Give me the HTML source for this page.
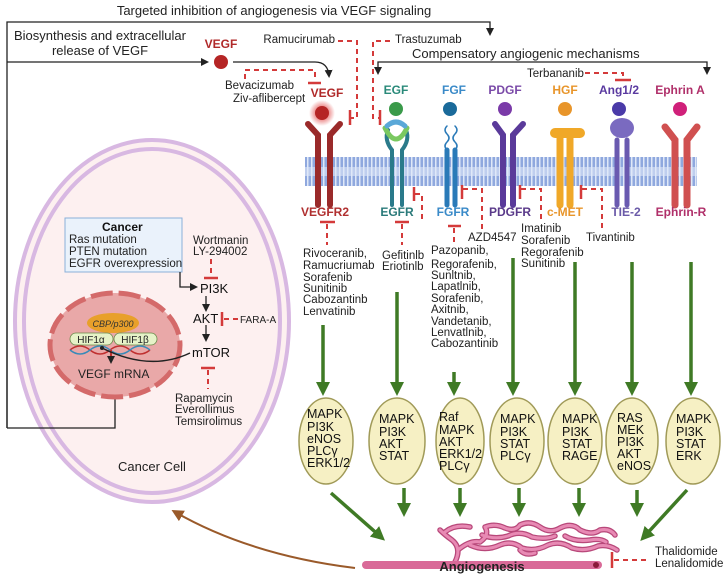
<!DOCTYPE html>
<html><head><meta charset="utf-8"><style>
body{margin:0;background:#fff}
svg{display:block;font-family:"Liberation Sans",sans-serif}
.t{font-size:11.5px;fill:#222}
.o{font-size:12.5px;fill:#111}
.b{font-weight:bold;font-size:12px}
.d{stroke:#d43a3a;stroke-width:2;stroke-dasharray:5,4;fill:none}
.bar{stroke:#d43a3a;stroke-width:2.5;fill:none}
.g{stroke:#3f7a25;stroke-width:3.5;fill:none}
</style></head><body>
<svg width="726" height="580" viewBox="0 0 726 580" xmlns="http://www.w3.org/2000/svg">
<defs>
<marker id="ak" markerWidth="8" markerHeight="8" refX="6" refY="4" orient="auto" markerUnits="userSpaceOnUse"><path d="M0,0 L8,4 L0,8z" fill="#222"/></marker>
<marker id="ag" markerWidth="14" markerHeight="14" refX="10" refY="7" orient="auto" markerUnits="userSpaceOnUse"><path d="M0,0 L14,7 L0,14z" fill="#3f7a25"/></marker>
<marker id="ab" markerWidth="12" markerHeight="12" refX="8" refY="6" orient="auto" markerUnits="userSpaceOnUse"><path d="M0,0 L12,6 L0,12z" fill="#9a5a2a"/></marker>
<radialGradient id="glow"><stop offset="0.4" stop-color="#e04040" stop-opacity="0.7"/><stop offset="1" stop-color="#e04040" stop-opacity="0"/></radialGradient>
<pattern id="mem" width="4" height="30" patternUnits="userSpaceOnUse"><rect width="4" height="30" fill="#dfe8f8"/><rect x="0.5" width="2.5" height="30" fill="#8fa8de"/></pattern>
</defs>

<!-- title & frame -->
<text x="274" y="15" text-anchor="middle" style="font-size:13px" fill="#222">Targeted inhibition of angiogenesis via VEGF signaling</text>
<path d="M7,428 V22 H490 V34" stroke="#222" stroke-width="1.3" fill="none" marker-end="url(#ak)"/>
<text x="100" y="40" text-anchor="middle" style="font-size:13px" fill="#222">Biosynthesis and extracellular</text>
<text x="100" y="55" text-anchor="middle" style="font-size:13px" fill="#222">release of VEGF</text>
<path d="M7,62 H207" stroke="#222" stroke-width="1.3" fill="none" marker-end="url(#ak)"/>
<text x="221" y="48" text-anchor="middle" class="b" fill="#b02a2a">VEGF</text>
<circle cx="221" cy="62" r="7" fill="#b52525"/>
<path d="M233,62 H315 Q328,62 329,76" stroke="#222" stroke-width="1.3" fill="none" marker-end="url(#ak)"/>
<path d="M245,79 V70 H315 V78" class="d"/><path d="M308,83 H321" class="bar"/>
<text x="225" y="89" class="t">Bevacizumab</text>
<text x="233" y="102" class="t">Ziv-aflibercept</text>
<text x="327" y="97" text-anchor="middle" class="b" fill="#b02a2a">VEGF</text>
<circle cx="322" cy="113" r="13" fill="url(#glow)"/>
<circle cx="322" cy="113" r="7" fill="#b52525"/>
<text x="335" y="43" text-anchor="end" class="t">Ramucirumab</text>
<path d="M338,41 H357 V118 H350" class="d"/><path d="M350,110 V125" class="bar"/>
<text x="395" y="43" class="t">Trastuzumab</text>
<path d="M390,41 H373 V118 H380" class="d"/><path d="M380,110 V125" class="bar"/>
<text x="412" y="58" style="font-size:13px" fill="#222">Compensatory angiogenic mechanisms</text>
<path d="M378,72 V62 H707 V72" stroke="#222" stroke-width="1.3" fill="none"/>
<path d="M378,64 V73" stroke="#222" marker-end="url(#ak)"/><path d="M707,64 V73" stroke="#222" marker-end="url(#ak)"/>
<text x="527" y="77" class="t">Terbananib</text>
<path d="M585,73 H623 V79" class="d"/><path d="M615,80 H631" class="bar"/>

<!-- ligands -->
<g class="b" text-anchor="middle">
<text x="396" y="94" fill="#2a8a7a">EGF</text>
<text x="454" y="94" fill="#3a8ac8">FGF</text>
<text x="505" y="94" fill="#7a4aa8">PDGF</text>
<text x="565" y="94" fill="#e8952a">HGF</text>
<text x="619" y="94" fill="#5a3aa0">Ang1/2</text>
<text x="680" y="94" fill="#b0306a">Ephrin A</text>
</g>
<circle cx="396" cy="109" r="7" fill="#3a9a4a"/>
<circle cx="450" cy="109" r="7" fill="#1a6a9a"/>
<circle cx="505" cy="109" r="7" fill="#7a3aa8"/>
<circle cx="565" cy="109" r="7" fill="#e8952a"/>
<circle cx="619" cy="109" r="7" fill="#4a3aa8"/>
<circle cx="680" cy="109" r="7" fill="#d0207a"/>

<!-- membrane -->
<rect x="305" y="157" width="392" height="29" fill="url(#mem)"/>
<rect x="305" y="167" width="392" height="9" fill="#dfe8f8" opacity="0.6"/>

<!-- receptors -->
<g stroke-linecap="round" fill="none">
<path d="M318,205 V135 L308,124 M330,205 V135 L340,124" stroke="#9a2a2a" stroke-width="6"/>
<path d="M392,205 V150 Q384,140 388,130 M402,205 V150 Q410,140 406,130" stroke="#2a7a8a" stroke-width="4"/>
<path d="M385,128 Q396,150 407,128" stroke="#7ac860" stroke-width="5"/>
<path d="M387,126 Q396,118 405,126" stroke="#5aa8d8" stroke-width="5"/>
<path d="M447,205 V150 M455,205 V150" stroke="#2a7ab8" stroke-width="5"/>
<path d="M447,150 q-4,-4 0,-8 q4,-4 0,-8 q-4,-4 0,-8 M455,150 q4,-4 0,-8 q-4,-4 0,-8 q4,-4 0,-8" stroke="#2a7ab8" stroke-width="1.5"/>
<path d="M503,205 V135 L495,124 M513,205 V135 L523,124" stroke="#5a3a9a" stroke-width="6"/>
<path d="M560,205 V135 M570,205 V135" stroke="#f0a828" stroke-width="7"/>
<path d="M555,133 H580" stroke="#f0a828" stroke-width="10"/>
<path d="M617,205 V140 M627,205 V140" stroke="#6a5ab0" stroke-width="5"/>
<ellipse cx="622" cy="128" rx="12" ry="10" fill="#7a6ac0" stroke="none"/>
<path d="M675,205 V140 L665,127 M687,205 V140 L697,127" stroke="#d05050" stroke-width="7"/>
</g>

<g class="b" text-anchor="middle">
<text x="325" y="216" fill="#b03030">VEGFR2</text>
<text x="397" y="216" fill="#2a7a7a">EGFR</text>
<text x="453" y="216" fill="#3a8ac8">FGFR</text>
<text x="510" y="216" fill="#5a3a8a">PDGFR</text>
<text x="565" y="216" fill="#e8952a">c-MET</text>
<text x="626" y="216" fill="#6a5aa8">TIE-2</text>
<text x="681" y="216" fill="#b0306a">Ephrin-R</text>
</g>

<!-- inhibitor dashes -->
<path d="M320,222 H335" class="bar"/><path d="M327,224 V245" class="d"/>
<path d="M395,222 H409" class="bar"/><path d="M402,224 V245" class="d"/>
<path d="M414,187 V201" class="bar"/><path d="M415,194 H422 V220" class="d"/>
<path d="M448,226 H461" class="bar"/><path d="M454,228 V243" class="d"/>
<path d="M462,185 V199" class="bar"/><path d="M463,189 H482 V232" class="d"/>
<text x="468" y="241" class="t">AZD4547</text>
<path d="M520,185 V199" class="bar"/><path d="M521,189 H541 V222" class="d"/>
<path d="M581,185 V199" class="bar"/><path d="M582,189 H602 V228" class="d"/>
<text x="586" y="241" class="t">Tivantinib</text>

<!-- drug lists -->
<g class="t">
<text x="303" y="257">Rivoceranib,</text><text x="303" y="269">Ramucriumab</text><text x="303" y="281">Sorafenib</text><text x="303" y="292">Sunitinib</text><text x="303" y="303">Cabozantinb</text><text x="303" y="315">Lenvatinib</text>
<text x="382" y="259">Gefitinlb</text><text x="382" y="270">Eriotinlb</text>
<text x="431" y="254">Pazopanib,</text><text x="431" y="268">Regorafenib,</text><text x="431" y="279">Sunltnib,</text><text x="431" y="290">Lapatlnib,</text><text x="431" y="302">Sorafenib,</text><text x="431" y="313">Axitnib,</text><text x="431" y="325">Vandetanib,</text><text x="431" y="336">Lenvatlnib,</text><text x="431" y="347">Cabozantinib</text>
<text x="521" y="232">Imatinib</text><text x="521" y="244">Sorafenib</text><text x="521" y="256">Regorafenib</text><text x="521" y="267">Sunitinib</text>
</g>

<!-- green arrows down -->
<path d="M323,325 V392" class="g" marker-end="url(#ag)"/>
<path d="M397,292 V392" class="g" marker-end="url(#ag)"/>
<path d="M454,372 V392" class="g" marker-end="url(#ag)"/>
<path d="M513,258 V392" class="g" marker-end="url(#ag)"/>
<path d="M575,262 V392" class="g" marker-end="url(#ag)"/>
<path d="M632,262 V392" class="g" marker-end="url(#ag)"/>
<path d="M691,262 V392" class="g" marker-end="url(#ag)"/>

<!-- ovals -->
<g fill="#f6f0c4" stroke="#a09a58" stroke-width="1.5">
<ellipse cx="326" cy="441" rx="27" ry="43"/>
<ellipse cx="397" cy="441" rx="28" ry="43"/>
<ellipse cx="460" cy="441" rx="24" ry="43"/>
<ellipse cx="517" cy="441" rx="27" ry="43"/>
<ellipse cx="575" cy="441" rx="27" ry="43"/>
<ellipse cx="632" cy="441" rx="26" ry="43"/>
<ellipse cx="693" cy="441" rx="27" ry="43"/>
</g>
<g class="o">
<text x="307" y="418">MAPK</text><text x="307" y="431">PI3K</text><text x="307" y="443">eNOS</text><text x="307" y="455">PLCγ</text><text x="307" y="467">ERK1/2</text>
<text x="379" y="423">MAPK</text><text x="379" y="436">PI3K</text><text x="379" y="448">AKT</text><text x="379" y="460">STAT</text>
<text x="439" y="421">Raf</text><text x="439" y="434">MAPK</text><text x="439" y="446">AKT</text><text x="439" y="458">ERK1/2</text><text x="439" y="470">PLCγ</text>
<text x="500" y="423">MAPK</text><text x="500" y="436">PI3K</text><text x="500" y="448">STAT</text><text x="500" y="460">PLCγ</text>
<text x="562" y="423">MAPK</text><text x="562" y="436">PI3K</text><text x="562" y="448">STAT</text><text x="562" y="460">RAGE</text>
<text x="617" y="422">RAS</text><text x="617" y="434">MEK</text><text x="617" y="446">PI3K</text><text x="617" y="458">AKT</text><text x="617" y="470">eNOS</text>
<text x="676" y="423">MAPK</text><text x="676" y="436">PI3K</text><text x="676" y="448">STAT</text><text x="676" y="460">ERK</text>
</g>

<!-- lower arrows -->
<path d="M331,493 L382,538" class="g" marker-end="url(#ag)"/>
<path d="M404,488 V513" class="g" marker-end="url(#ag)"/>
<path d="M460,488 V513" class="g" marker-end="url(#ag)"/>
<path d="M519,488 V513" class="g" marker-end="url(#ag)"/>
<path d="M579,488 V513" class="g" marker-end="url(#ag)"/>
<path d="M637,490 V513" class="g" marker-end="url(#ag)"/>
<path d="M687,490 L643,538" class="g" marker-end="url(#ag)"/>

<!-- vessel -->
<g fill="none" stroke-linecap="round" stroke-linejoin="round">
<g stroke="#b8487a" stroke-width="5.5">
<path id="v1" d="M455,562 Q462,548 452,540 Q445,535 440,530 M458,550 Q470,540 480,542 Q490,535 485,527 Q495,523 505,528 Q515,532 520,525 Q530,520 540,527 Q550,534 560,528 Q572,522 580,530 Q592,536 600,530 Q610,528 615,535"/>
<path d="M470,545 Q485,552 500,545 Q512,540 522,548 Q535,552 548,545 Q560,540 572,548 Q585,552 598,546 Q608,544 617,550"/>
<path d="M482,535 Q495,540 508,536 Q520,530 532,537 Q545,540 555,536 M565,536 Q575,542 590,540 Q600,538 606,542 M445,532 Q455,524 470,527 M520,550 Q525,556 535,553"/>
</g>
<g stroke="#e88ab4" stroke-width="3">
<path d="M455,562 Q462,548 452,540 Q445,535 440,530 M458,550 Q470,540 480,542 Q490,535 485,527 Q495,523 505,528 Q515,532 520,525 Q530,520 540,527 Q550,534 560,528 Q572,522 580,530 Q592,536 600,530 Q610,528 615,535"/>
<path d="M470,545 Q485,552 500,545 Q512,540 522,548 Q535,552 548,545 Q560,540 572,548 Q585,552 598,546 Q608,544 617,550"/>
<path d="M482,535 Q495,540 508,536 Q520,530 532,537 Q545,540 555,536 M565,536 Q575,542 590,540 Q600,538 606,542 M445,532 Q455,524 470,527 M520,550 Q525,556 535,553"/>
</g>
</g>
<rect x="362" y="561" width="240" height="8" rx="4" fill="#d96a98"/>
<circle cx="596" cy="565" r="3" fill="#8a1a3a"/>
<text x="482" y="571" text-anchor="middle" style="font-size:13px;font-weight:bold" fill="#222">Angiogenesis</text>
<path d="M612,552 V568" class="bar"/><path d="M614,560 H650" class="d"/>
<text x="655" y="555" class="t">Thalidomide</text><text x="655" y="567" class="t">Lenalidomide</text>

<!-- brown arrow -->
<path d="M355,568 Q250,555 175,512" stroke="#9a5a2a" stroke-width="2" fill="none" marker-end="url(#ab)"/>

<!-- cell -->
<ellipse cx="152" cy="321" rx="137" ry="181" fill="#fdf0f0" stroke="#d8b8e2" stroke-width="4"/>
<ellipse cx="152" cy="321" rx="128" ry="172" fill="none" stroke="#d8b8e2" stroke-width="4"/>
<text x="152" y="471" text-anchor="middle" style="font-size:13px" fill="#222">Cancer Cell</text>
<path d="M115,383 V428 H7" stroke="#222" stroke-width="1.3" fill="none"/>
<path d="M7,140 V428" stroke="#222" stroke-width="1.3"/>

<rect x="65" y="218" width="117" height="54" fill="#eaf2fb" stroke="#8ab0d8" stroke-width="1"/>
<text x="102" y="231" style="font-size:12px;font-weight:bold" fill="#111">Cancer</text>
<g class="t"><text x="69" y="243">Ras mutation</text><text x="69" y="255">PTEN mutation</text><text x="69" y="267">EGFR overexpression</text></g>
<path d="M180,272 V287 H196" stroke="#222" stroke-width="1.3" fill="none" marker-end="url(#ak)"/>
<text x="193" y="244" class="t">Wortmanin</text><text x="193" y="255" class="t">LY-294002</text>
<path d="M211,259 V275" class="d"/><path d="M204,278 H218" class="bar"/>
<text x="200" y="293" style="font-size:13px" fill="#111">PI3K</text>
<path d="M206,296 V310" stroke="#222" stroke-width="1.3" marker-end="url(#ak)"/>
<text x="193" y="323" style="font-size:13px" fill="#111">AKT</text>
<path d="M222,312 V326" class="bar"/><path d="M224,319 H238" class="d"/>
<text x="240" y="323" style="font-size:10px" fill="#222">FARA-A</text>
<path d="M206,325 V340" stroke="#222" stroke-width="1.3" marker-end="url(#ak)"/>
<text x="192" y="357" style="font-size:13px" fill="#111">mTOR</text>
<path d="M201,368 H215" class="bar"/><path d="M208,370 V389" class="d"/>
<g class="t"><text x="175" y="402">Rapamycin</text><text x="175" y="413">Everollimus</text><text x="175" y="425">Temsirolimus</text></g>

<!-- nucleus -->
<ellipse cx="115" cy="345" rx="65" ry="52" fill="#e9a8a8" stroke="#d46a6a" stroke-width="5" stroke-dasharray="22,6"/>
<ellipse cx="113" cy="323" rx="26" ry="10" fill="#e8a02a"/>
<text x="113" y="327" text-anchor="middle" style="font-size:9px;font-style:italic" fill="#333">CBP/p300</text>
<rect x="70" y="333" width="43" height="12" rx="6" fill="#e6f2c8" stroke="#6a8a4a" stroke-width="0.8"/>
<rect x="114" y="333" width="43" height="12" rx="6" fill="#e6f2c8" stroke="#6a8a4a" stroke-width="0.8"/>
<text x="91" y="343" text-anchor="middle" style="font-size:10px" fill="#222">HIF1α</text>
<text x="135" y="343" text-anchor="middle" style="font-size:10px" fill="#222">HIF1β</text>
<path d="M70,350 q10,-8 20,0 t20,0 t20,0 t20,0" stroke="#c03030" stroke-width="1.5" fill="none"/>
<path d="M70,350 q10,8 20,0 t20,0 t20,0 t20,0" stroke="#3a8ab8" stroke-width="1.5" fill="none"/>
<path d="M111,350 V362" stroke="#c03030" stroke-width="2" marker-end="url(#ak)"/>
<text x="78" y="378" style="font-size:12px" fill="#222">VEGF mRNA</text>
<path d="M190,353 Q150,372 102,348" stroke="#222" stroke-width="1.5" fill="none"/>
<circle cx="102" cy="348" r="2" fill="#222"/>
</svg>
</body></html>
